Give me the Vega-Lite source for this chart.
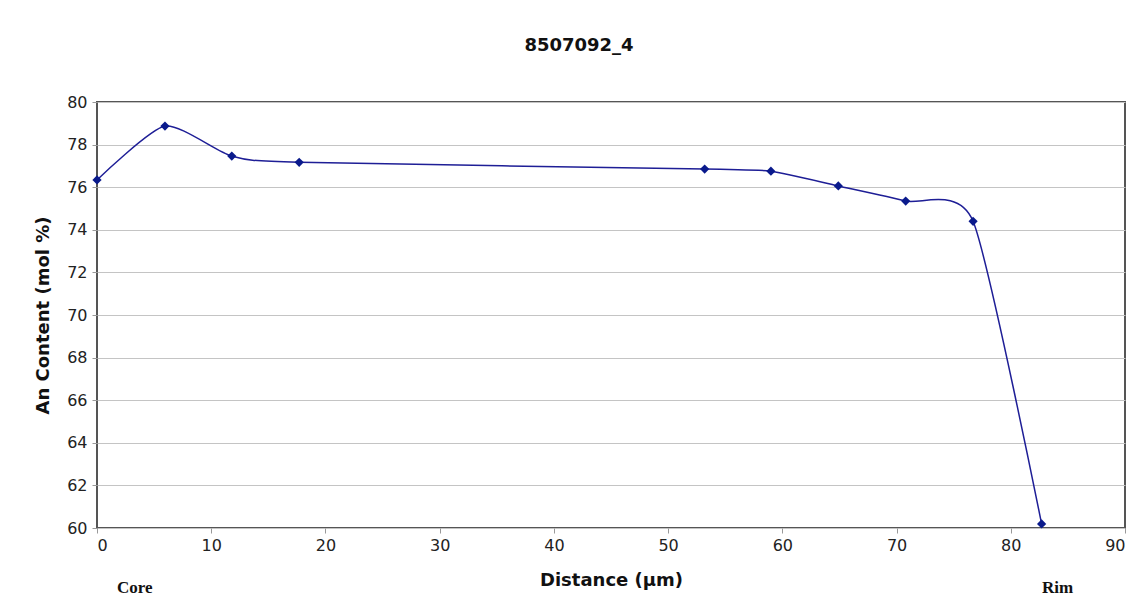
{
  "$schema": "https://vega.github.io/schema/vega-lite/v6.json",
  "width": 1028,
  "height": 426,
  "autosize": "none",
  "padding": {"left": 97, "top": 102, "right": 18, "bottom": 82},
  "background": "white",
  "title": {"text": "8507092_4", "font": "DejaVu Sans", "fontSize": 18, "fontWeight": "bold", "color": "#111111", "offset": 39, "dx": -32},
  "config": {
    "view": {"stroke": "#555555", "strokeWidth": 2},
    "axis": {"labelFont": "DejaVu Sans", "labelFontSize": 16, "labelColor": "#222222", "titleFont": "DejaVu Sans", "titleFontSize": 18, "titleFontWeight": "bold", "titleColor": "#111111", "domain": false, "tickColor": "#999999", "tickSize": 5}
  },
  "layer": [
    {
      "data": {"values": [
        {"d": 0.0, "an": 76.34},
        {"d": 5.95, "an": 78.87},
        {"d": 11.8, "an": 77.46},
        {"d": 17.7, "an": 77.17},
        {"d": 53.2, "an": 76.85},
        {"d": 59.0, "an": 76.75},
        {"d": 64.9, "an": 76.06},
        {"d": 70.8, "an": 75.35},
        {"d": 76.7, "an": 74.40},
        {"d": 82.7, "an": 60.19}
      ]},
      "layer": [
        {"mark": {"type": "line", "interpolate": "cardinal", "tension": 0.35, "color": "#1e1e96", "strokeWidth": 1.5}},
        {"mark": {"type": "point", "shape": "diamond", "filled": true, "opacity": 1, "color": "#0a1a8c", "size": 85}}
      ],
      "encoding": {
        "x": {"field": "d", "type": "quantitative", "title": "Distance (µm)",
              "scale": {"domain": [0, 90], "nice": false},
              "axis": {"values": [0,10,20,30,40,50,60,70,80,90], "grid": false, "labelPadding": 4, "titlePadding": 18}},
        "y": {"field": "an", "type": "quantitative", "title": "An Content (mol %)",
              "scale": {"domain": [60, 80], "nice": false, "zero": false},
              "axis": {"values": [60,62,64,66,68,70,72,74,76,78,80], "grid": true, "gridColor": "#c4c4c4", "gridWidth": 1.2, "labelPadding": 5, "titlePadding": 14}}
      }
    },
    {
      "data": {"values": [
        {"d": 3.3, "an": 57.2, "label": "Core"},
        {"d": 84.1, "an": 57.2, "label": "Rim"}
      ]},
      "mark": {"type": "text", "font": "Liberation Serif", "fontSize": 17, "fontWeight": "bold", "color": "#111111", "baseline": "middle", "align": "center"},
      "encoding": {
        "x": {"field": "d", "type": "quantitative"},
        "y": {"field": "an", "type": "quantitative"},
        "text": {"field": "label"}
      }
    }
  ]
}
